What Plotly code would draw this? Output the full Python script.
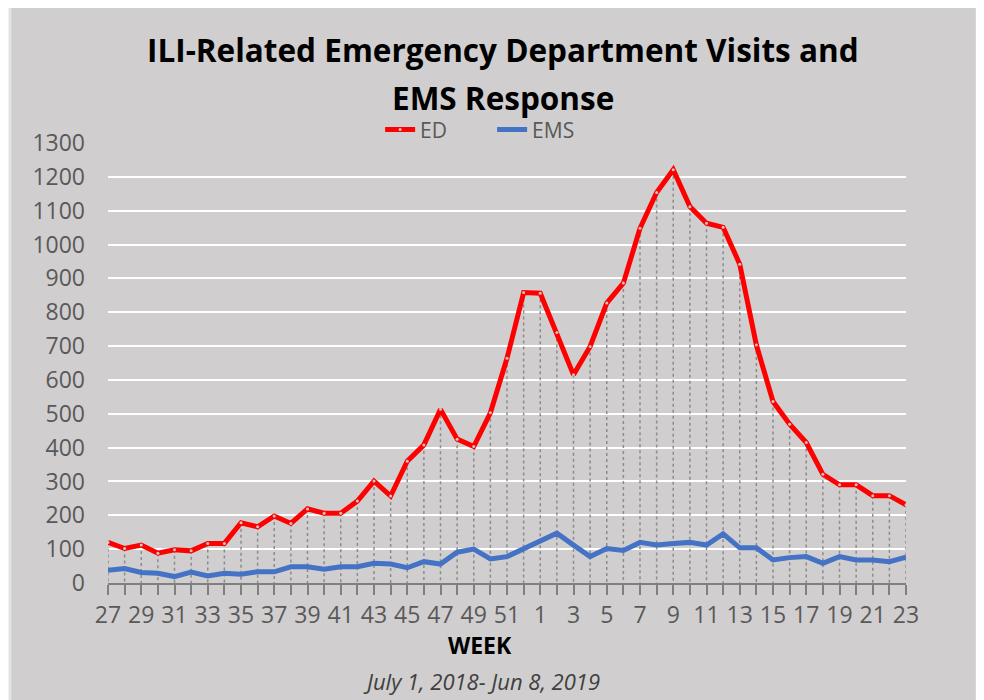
import plotly.graph_objects as go

weeks = [str(w) for w in list(range(27, 53)) + list(range(1, 24))]

ed_visits = [120, 102, 112, 88, 98, 95, 117, 117, 178, 166, 198, 176, 219, 206, 206, 242,
             301, 257, 360, 408, 513, 425, 403, 503, 664, 858, 856, 740, 615, 699, 827, 886,
             1048, 1154, 1221, 1112, 1063, 1051, 942, 703, 536, 469, 415, 321, 290, 290, 258,
             258, 231]

ems_response = [38, 43, 31, 29, 19, 32, 21, 29, 26, 33, 33, 48, 48, 41, 48, 48,
                58, 56, 45, 63, 56, 91, 100, 71, 78, 100, 124, 147, 112, 78, 102, 96,
                120, 112, 117, 120, 112, 145, 104, 104, 68, 75, 78, 58, 78, 68, 68,
                63, 76]

tick_labels = [w if i % 2 == 0 else "" for i, w in enumerate(weeks)]

body = "Open Sans, sans-serif"

# drop lines from each ED point down to the axis
drop_x, drop_y = [], []
for w, v in zip(weeks, ed_visits):
    drop_x += [w, w, None]
    drop_y += [v, 0, None]

fig = go.Figure()

fig.add_trace(go.Scatter(
    x=drop_x, y=drop_y, mode="lines",
    line=dict(color="#8c8c8c", width=1.5, dash="dot"),
    showlegend=False, hoverinfo="skip"
))

fig.add_trace(go.Scatter(
    x=weeks, y=ed_visits, name="ED", mode="lines+markers",
    line=dict(color="#ff0000", width=5),
    marker=dict(size=3, color="#c8c8c8")
))

fig.add_trace(go.Scatter(
    x=weeks, y=ems_response, name="EMS", mode="lines",
    line=dict(color="#4472c4", width=5)
))

fig.update_layout(
    width=984, height=700,
    margin=dict(l=100, r=86, t=135, b=125),
    paper_bgcolor="white",
    plot_bgcolor="rgba(0,0,0,0)",
    showlegend=True,
    legend=dict(orientation="h", x=0.341, xanchor="left", y=1.03, yanchor="middle",
                font=dict(family=body, size=21, color="#595959"),
                bgcolor="rgba(0,0,0,0)", entrywidth=67, entrywidthmode="pixels"),
    shapes=[dict(type="rect", xref="paper", yref="paper",
                 x0=-0.1228, x1=1.089, y0=-0.32, y1=1.311,
                 fillcolor="#d0cece", line=dict(color="#e2e2e2", width=3),
                 layer="below")],
    annotations=[
        dict(text="<b>ILI-Related Emergency Department Visits and</b>", xref="paper", yref="paper",
             x=0.495, y=1.2114, showarrow=False, xanchor="center", yanchor="middle",
             font=dict(family=body, size=31.5, color="black")),
        dict(text="<b>EMS Response</b>", xref="paper", yref="paper",
             x=0.495, y=1.1023, showarrow=False, xanchor="center", yanchor="middle",
             font=dict(family=body, size=31.5, color="black")),
        dict(text="<b>WEEK</b>", xref="paper", yref="paper",
             x=0.466, y=-0.141, showarrow=False, xanchor="center", yanchor="middle",
             font=dict(family=body, size=23, color="black")),
        dict(text="<i>July 1, 2018- Jun 8, 2019</i>", xref="paper", yref="paper",
             x=0.468, y=-0.223, showarrow=False, xanchor="center", yanchor="middle",
             font=dict(family=body, size=22, color="#404040")),
    ],
)

fig.update_xaxes(
    type="category", range=[0, len(weeks) - 1],
    tickmode="array", tickvals=weeks, ticktext=tick_labels,
    ticks="outside", ticklen=10, tickwidth=2, tickcolor="#808080",
    showline=True, linecolor="#808080", linewidth=2,
    showgrid=False, tickangle=0,
    tickfont=dict(family=body, size=23, color="#595959")
)

fig.update_yaxes(
    range=[0, 1300], dtick=100, tick0=0,
    showgrid=True, gridcolor="white", gridwidth=2,
    zeroline=False, showline=False, ticks="",
    ticklabelstandoff=22,
    tickfont=dict(family=body, size=23, color="#595959")
)

fig.write_html("out.html")
